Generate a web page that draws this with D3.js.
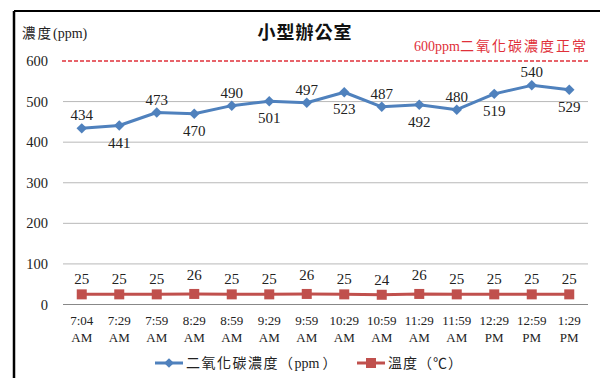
<!DOCTYPE html>
<html lang="zh-Hant">
	<head>
		<meta charset="utf-8">
		<title>小型辦公室</title>
		<script type="text/javascript" src="https://d3js.org/d3.v7.min.js"></script>
		<style type="text/css">
			body { margin: 0; background: #fff; }
			text { font-family: "Liberation Serif", "Noto Sans CJK TC", serif; }
			.cjk { font-family: "Noto Sans CJK TC", sans-serif; }
		</style>
	</head>
	<body>
		<script type="text/javascript">

			// data
			var times = ["7:04 AM", "7:29 AM", "7:59 AM", "8:29 AM", "8:59 AM", "9:29 AM", "9:59 AM",
				"10:29 AM", "10:59 AM", "11:29 AM", "11:59 AM", "12:29 PM", "12:59 PM", "1:29 PM"];
			var co2 = [434, 441, 473, 470, 490, 501, 497, 523, 487, 492, 480, 519, 540, 529];
			var temp = [25, 25, 25, 26, 25, 25, 26, 25, 24, 26, 25, 25, 25, 25];
			var yTicks = [0, 100, 200, 300, 400, 500, 600];
			var limit = 600;

			var w = 600;
			var h = 378;
			var blue = "#4f81bd";
			var red = "#c0504d";

			var svg = d3.select("body")
						.append("svg")
						.attr("width", w)
						.attr("height", h);

			// frame (top and left edges only show in the picture)
			svg.append("line").attr("x1", 14).attr("x2", w).attr("y1", 11).attr("y2", 11)
				.attr("stroke", "#000").attr("stroke-width", 2);
			svg.append("line").attr("x1", 14).attr("x2", 14).attr("y1", 11).attr("y2", h)
				.attr("stroke", "#000").attr("stroke-width", 2.5);

			var xScale = d3.scaleBand()
				.domain(times)
				.range([63, 588]);

			var yScale = d3.scaleLinear()
				.domain([0, 600])
				.range([304.5, 61]);

			function cx(d, i) { return xScale(times[i]) + xScale.bandwidth() / 2; }

			// gridlines
			svg.selectAll(".grid")
				.data(yTicks.filter(function(t) { return t > 0 && t < 600; }))
				.enter()
				.append("line")
				.attr("x1", 63).attr("x2", 588)
				.attr("y1", function(d) { return yScale(d); })
				.attr("y2", function(d) { return yScale(d); })
				.attr("stroke", "#b8b8b8").attr("stroke-width", 1);

			// baseline
			svg.append("line")
				.attr("x1", 63).attr("x2", 588)
				.attr("y1", yScale(0)).attr("y2", yScale(0))
				.attr("stroke", "#888").attr("stroke-width", 1.2);

			// 600ppm dashed limit
			svg.append("line")
				.attr("x1", 62).attr("x2", 588)
				.attr("y1", yScale(limit)).attr("y2", yScale(limit))
				.attr("stroke", "#e0303a").attr("stroke-width", 1.5)
				.attr("stroke-dasharray", "4,2");

			// y axis labels
			svg.selectAll(".ylab")
				.data(yTicks)
				.enter()
				.append("text")
				.attr("x", 48)
				.attr("y", function(d) { return yScale(d) + 5; })
				.attr("text-anchor", "end")
				.attr("font-size", 14.5)
				.attr("fill", "#222")
				.text(function(d) { return d; });

			// x axis labels, two lines
			var xl = svg.selectAll(".xlab")
				.data(times)
				.enter()
				.append("text")
				.attr("text-anchor", "middle")
				.attr("font-size", 13)
				.attr("fill", "#222");
			xl.append("tspan")
				.attr("x", function(d) { return xScale(d) + xScale.bandwidth() / 2; })
				.attr("y", 325)
				.text(function(d) { return d.split(" ")[0]; });
			xl.append("tspan")
				.attr("x", function(d) { return xScale(d) + xScale.bandwidth() / 2; })
				.attr("y", 342)
				.text(function(d) { return d.split(" ")[1]; });

			// CO2 line
			var co2Line = d3.line()
				.x(cx)
				.y(function(d) { return yScale(d); });

			svg.append("path")
				.datum(co2)
				.attr("d", co2Line)
				.attr("fill", "none")
				.attr("stroke", blue)
				.attr("stroke-width", 3)
				.attr("stroke-linejoin", "round");

			svg.selectAll(".co2pt")
				.data(co2)
				.enter()
				.append("path")
				.attr("d", d3.symbol().type(d3.symbolDiamond2).size(70))
				.attr("transform", function(d, i) { return "translate(" + cx(d, i) + "," + yScale(d) + ")"; })
				.attr("fill", blue);

			svg.selectAll(".co2lab")
				.data(co2)
				.enter()
				.append("text")
				.attr("x", cx)
				.attr("y", function(d, i) { return i % 2 === 0 ? yScale(d) - 8 : yScale(d) + 22; })
				.attr("text-anchor", "middle")
				.attr("font-size", 15)
				.attr("fill", "#222")
				.text(function(d) { return d; });

			// temperature line
			var tLine = d3.line()
				.x(cx)
				.y(function(d) { return yScale(d); });

			svg.append("path")
				.datum(temp)
				.attr("d", tLine)
				.attr("fill", "none")
				.attr("stroke", red)
				.attr("stroke-width", 3);

			svg.selectAll(".tpt")
				.data(temp)
				.enter()
				.append("rect")
				.attr("x", function(d, i) { return cx(d, i) - 5; })
				.attr("y", function(d) { return yScale(d) - 5; })
				.attr("width", 10)
				.attr("height", 10)
				.attr("fill", red);

			svg.selectAll(".tlab")
				.data(temp)
				.enter()
				.append("text")
				.attr("x", cx)
				.attr("y", function(d) { return yScale(d) - 10 - (d > 25 ? 4 : 0); })
				.attr("text-anchor", "middle")
				.attr("font-size", 15)
				.attr("fill", "#222")
				.text(function(d) { return d; });

			// titles
			svg.append("text")
				.attr("class", "cjk")
				.attr("x", 305).attr("y", 39)
				.attr("text-anchor", "middle")
				.attr("font-size", 18)
				.attr("font-weight", "bold")
				.attr("letter-spacing", 1)
				.attr("fill", "#111")
				.text("小型辦公室");

			svg.append("text")
				.attr("x", 22).attr("y", 38)
				.attr("font-size", 14)
				.attr("fill", "#222")
				.html('<tspan class="cjk" font-size="13.5" letter-spacing="2">濃度</tspan>(ppm)');

			svg.append("text")
				.attr("x", 588).attr("y", 51)
				.attr("text-anchor", "end")
				.attr("font-size", 14)
				.attr("fill", "#e0303a")
				.html('600ppm<tspan class="cjk" font-size="14" letter-spacing="2">二氧化碳濃度正常</tspan>');

			// legend
			var ly = 363;
			svg.append("line").attr("x1", 155).attr("x2", 183).attr("y1", ly).attr("y2", ly)
				.attr("stroke", blue).attr("stroke-width", 3);
			svg.append("path")
				.attr("d", d3.symbol().type(d3.symbolDiamond2).size(60))
				.attr("transform", "translate(169," + ly + ")")
				.attr("fill", blue);
			svg.append("text")
				.attr("x", 186).attr("y", ly + 5)
				.attr("font-size", 14)
				.attr("fill", "#222")
				.html('<tspan class="cjk" letter-spacing="1.5">二氧化碳濃度（</tspan>ppm<tspan class="cjk"> ）</tspan>');

			svg.append("line").attr("x1", 357).attr("x2", 385).attr("y1", ly).attr("y2", ly)
				.attr("stroke", red).attr("stroke-width", 3);
			svg.append("rect")
				.attr("x", 366).attr("y", ly - 5).attr("width", 10).attr("height", 10)
				.attr("fill", red);
			svg.append("text")
				.attr("class", "cjk")
				.attr("x", 388).attr("y", ly + 5)
				.attr("font-size", 14)
				.attr("letter-spacing", 1)
				.attr("fill", "#222")
				.text("溫度（℃）");

		</script>
	</body>
</html>
